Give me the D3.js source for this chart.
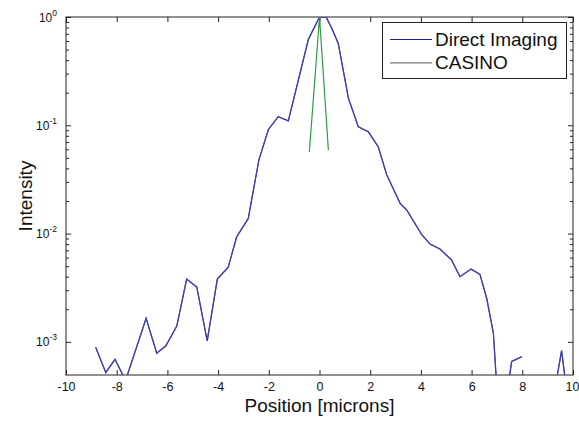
<!DOCTYPE html>
<html><head><meta charset="utf-8">
<script src="https://cdn.jsdelivr.net/npm/d3@7"></script>
<style>body{margin:0;background:#fff}svg{display:block}text{font-family:"Liberation Sans",Arial,sans-serif}</style>
</head><body><svg id="c" width="579" height="423"></svg>
<script>
// broad profile (Direct Imaging / CASINO overlay)
const posX = [-8.83,-8.43,-8.07,-7.65,-6.84,-6.42,-6.06,-5.63,-5.24,-4.84,-4.43,-4.03,-3.60,-3.27,-2.81,-2.39,-2.02,-1.63,-1.23,-0.44,0.0,0.26,0.48,0.74,1.14,1.53,1.93,2.32,2.65,3.18,3.44,4.03,4.36,4.75,5.21,5.54,5.98,6.33,6.60,6.86,7.02,7.45,7.58,7.98,8.3,9.33,9.55,9.72];
const intensity = [8.9e-4,5.2e-4,6.9e-4,4.4e-4,1.65e-3,7.85e-4,9.2e-4,1.4e-3,3.8e-3,3.2e-3,1.02e-3,3.8e-3,4.9e-3,9.3e-3,1.38e-2,0.048,0.091,0.12,0.11,0.62,1.0,1.0,0.79,0.57,0.178,0.097,0.087,0.063,0.035,0.019,0.0165,0.0098,0.0080,0.0072,0.0057,0.0040,0.0047,0.0042,0.0025,0.0012,0.0003,0.0004,6.6e-4,7.3e-4,null,4.2e-4,8.3e-4,4e-4];
// narrow peak
const peakX = [-0.40,0.0,0.35];
const peakY = [0.057,1.0,0.059];
const xTicks = [-10,-8,-6,-4,-2,0,2,4,6,8,10];
const yDecades = [-3,-2,-1,0];
const legendLabels = ["Direct Imaging","CASINO"];

const svg = d3.select("#c");
const L=66,R=573,T=17,B=375;
const x = d3.scaleLinear().domain([-10,10]).range([L,R]);
const y = d3.scaleLog().domain([Math.pow(10,-3.306),1]).range([B,T]);

svg.append("defs").append("clipPath").attr("id","clip").append("rect")
  .attr("x",L).attr("y",T).attr("width",R-L).attr("height",B-T);

const minor=[];
yDecades.forEach(d=>{for(let k=2;k<=9;k++){const v=k*Math.pow(10,d);if(v<=1&&v>=y.domain()[0])minor.push(v);}});
const majorY = yDecades.map(d=>Math.pow(10,d));

function styleAxis(g){g.select(".domain").remove();g.selectAll("line").attr("stroke","#222");}
// bottom
svg.append("g").attr("transform",`translate(0,${B})`)
  .call(d3.axisBottom(x).tickValues(xTicks).tickSize(-5).tickPadding(7).tickFormat(d=>String(d)))
  .call(styleAxis)
  .call(g=>g.selectAll("text").attr("font-size",12.5).attr("fill","#111").attr("font-family","Liberation Sans, Arial, sans-serif"))
  .call(g=>g.selectAll(".tick").filter(d=>d===10).select("text").attr("text-anchor","end").attr("x",6));
// top
svg.append("g").attr("transform",`translate(0,${T})`)
  .call(d3.axisTop(x).tickValues(xTicks).tickSize(-5).tickFormat(""))
  .call(styleAxis);
// left
svg.append("g").attr("transform",`translate(${L},0)`)
  .call(d3.axisLeft(y).tickValues(majorY).tickSize(-5).tickFormat(""))
  .call(styleAxis);
svg.append("g").attr("transform",`translate(${L},0)`)
  .call(d3.axisLeft(y).tickValues(minor).tickSize(-3).tickFormat(""))
  .call(styleAxis);
// right
svg.append("g").attr("transform",`translate(${R},0)`)
  .call(d3.axisRight(y).tickValues(majorY).tickSize(-5).tickFormat(""))
  .call(styleAxis);
svg.append("g").attr("transform",`translate(${R},0)`)
  .call(d3.axisRight(y).tickValues(minor).tickSize(-3).tickFormat(""))
  .call(styleAxis);

// y tick labels 10^n
yDecades.forEach(d=>{
  const t = svg.append("text").attr("x",L-9).attr("y",y(Math.pow(10,d))+4.5)
    .attr("text-anchor","end").attr("font-size",12).attr("fill","#111");
  t.append("tspan").text("10");
  t.append("tspan").attr("dy",-6).attr("font-size",8.5).text(String(d));
});

// box
svg.append("rect").attr("x",L).attr("y",T).attr("width",R-L).attr("height",B-T)
  .attr("fill","none").attr("stroke","#222").attr("stroke-width",1);

// lines
const data = posX.map((v,i)=>({x:v,y:intensity[i]}));
const line = d3.line().defined(d=>d.y!=null).x(d=>x(d.x)).y(d=>y(d.y));
const plot = svg.append("g").attr("clip-path","url(#clip)");
plot.append("path").datum(data).attr("d",line).attr("fill","none").attr("stroke","#555").attr("stroke-width",1.3);
plot.append("path").datum(data).attr("d",line).attr("fill","none").attr("stroke","#3b3bcc").attr("stroke-width",1.1);
const pk = peakX.map((v,i)=>({x:v,y:peakY[i]}));
plot.append("path").datum(pk).attr("d",line).attr("fill","none").attr("stroke","#2f9a48").attr("stroke-width",1.2);

// legend
const lg = svg.append("g");
lg.append("rect").attr("x",382.5).attr("y",22.5).attr("width",184).attr("height",56)
  .attr("fill","#fff").attr("stroke","#222");
const lc = ["#1e1e8c","#7a7a7a"];
legendLabels.forEach((s,i)=>{
  const yy = 39.5 + i*23.3;
  lg.append("line").attr("x1",390).attr("x2",432).attr("y1",yy).attr("y2",yy).attr("stroke",lc[i]).attr("stroke-width",1.2);
  lg.append("text").attr("x",435).attr("y",yy+6.5).attr("font-size",19).attr("fill","#111").text(s);
});

// axis labels
svg.append("text").attr("x",(L+R)/2).attr("y",412).attr("text-anchor","middle").attr("font-size",19).attr("fill","#111").text("Position [microns]");
svg.append("text").attr("transform",`translate(32,${(T+B)/2}) rotate(-90)`).attr("text-anchor","middle").attr("font-size",19).attr("fill","#111").text("Intensity");
</script></body></html>
